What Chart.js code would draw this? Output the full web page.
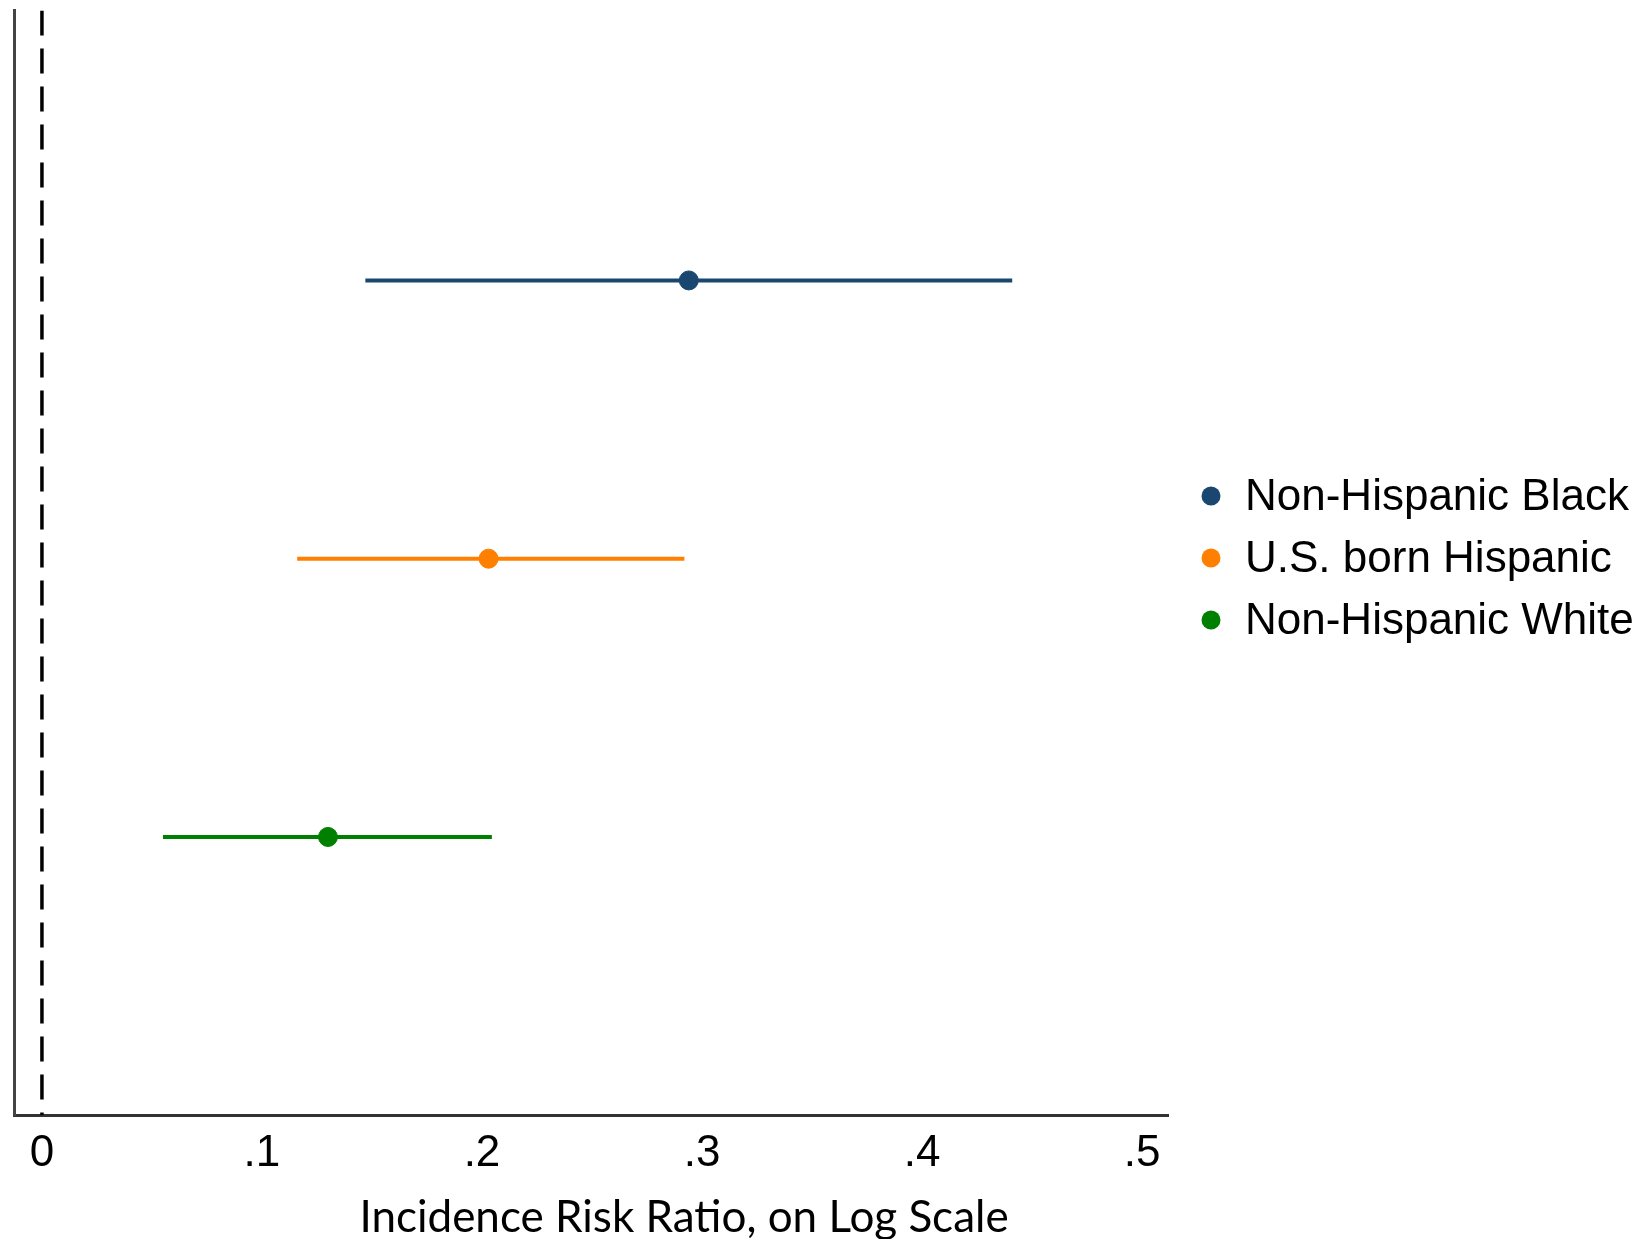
<!DOCTYPE html>
<html>
<head>
<meta charset="utf-8">
<script src="https://cdn.jsdelivr.net/npm/chart.js@4.4.0/dist/chart.umd.min.js"></script>
<style>
  html, body { margin: 0; padding: 0; background: #fff; }
  #wrap { width: 1650px; height: 1239px; }
</style>
</head>
<body>
<div id="wrap"><canvas id="irrChart" width="1650" height="1239"></canvas></div>
<script>
// grupos y estimaciones (IRR con intervalos de confianza)
var grupos = ['Non-Hispanic Black', 'U.S. born Hispanic', 'Non-Hispanic White'];
var filas = [3, 2, 1];
var estimado = [0.294, 0.203, 0.130];
var limiteInf = [0.147, 0.116, 0.055];
var limiteSup = [0.441, 0.292, 0.2045];
var colores = ['#1a476f', '#ff7f00', '#008000'];
var ticksX = [0, 0.1, 0.2, 0.3, 0.4, 0.5];
var tituloX = 'Incidence Risk Ratio, on Log Scale';

var datasets = [];

// linea de referencia en cero
datasets.push({
    type: 'line',
    data: [{ x: 0, y: 3.97 }, { x: 0, y: 0 }],
    borderColor: '#000',
    borderWidth: 3.5,
    borderDash: [25, 13],
    pointRadius: 0,
    esLeyenda: false
});

// intervalos
grupos.forEach(function (g, i) {
    datasets.push({
        type: 'line',
        data: [{ x: limiteInf[i], y: filas[i] }, { x: limiteSup[i], y: filas[i] }],
        borderColor: colores[i],
        borderWidth: 4,
        pointRadius: 0,
        esLeyenda: false
    });
});

// puntos
grupos.forEach(function (g, i) {
    datasets.push({
        type: 'scatter',
        label: g,
        data: [{ x: estimado[i], y: filas[i] }],
        backgroundColor: colores[i],
        borderColor: colores[i],
        pointRadius: 9.5,
        pointHoverRadius: 9.5,
        esLeyenda: true
    });
});

// leyenda y titulo del eje dibujados a mano
var extras = {
    id: 'extras',
    afterDraw: function (chart) {
        var ctx = chart.ctx;
        ctx.save();
        var items = chart.data.datasets.filter(function (d) { return d.esLeyenda; });
        items.forEach(function (d, i) {
            var y = 496 + i * 62;
            ctx.beginPath();
            ctx.fillStyle = d.backgroundColor;
            ctx.arc(1211, y, 9.5, 0, Math.PI * 2);
            ctx.fill();
            ctx.fillStyle = '#000';
            ctx.font = '44px "Liberation Sans", Arial, sans-serif';
            ctx.textBaseline = 'middle';
            ctx.textAlign = 'left';
            ctx.fillText(d.label, 1245, y + 2);
        });
        ctx.fillStyle = '#000';
        ctx.font = '44px Lato, sans-serif';
        ctx.textAlign = 'center';
        ctx.textBaseline = 'middle';
        ctx.fillText(tituloX, 684, 1218);
        ctx.restore();
    }
};

var ctx = document.getElementById('irrChart');
var grafico = new Chart(ctx, {
    data: { datasets: datasets },
    options: {
        responsive: false,
        animation: false,
        layout: { padding: { left: 14, top: 7, right: 482, bottom: 47 } },
        plugins: {
            legend: { display: false },
            tooltip: { enabled: false }
        },
        scales: {
            x: {
                type: 'linear',
                min: -0.0127,
                max: 0.5118,
                afterBuildTicks: function (axis) {
                    axis.ticks = ticksX.map(function (v) { return { value: v }; });
                },
                ticks: {
                    color: '#000',
                    padding: 12,
                    font: { family: '"Liberation Sans", Arial', size: 44 },
                    callback: function (v) {
                        return v === 0 ? '0' : String(Math.round(v * 10) / 10).replace(/^0/, '');
                    }
                },
                grid: { display: false, drawTicks: false },
                border: { display: true, color: '#333', width: 3 }
            },
            y: {
                type: 'linear',
                min: 0,
                max: 3.97,
                ticks: { display: false },
                grid: { display: false, drawTicks: false },
                border: { display: true, color: '#444', width: 3 }
            }
        }
    },
    plugins: [extras]
});
</script>
</body>
</html>
